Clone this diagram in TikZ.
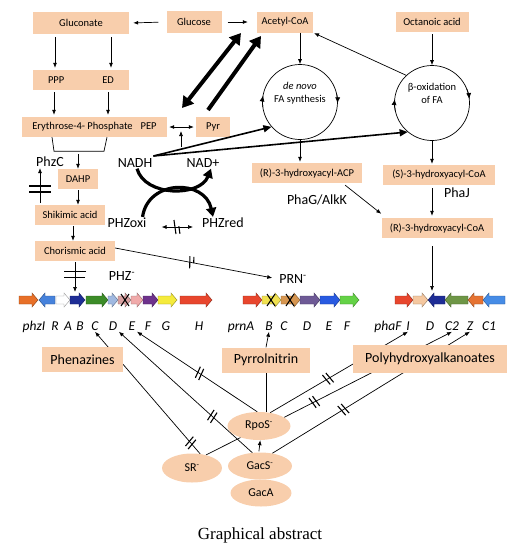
\documentclass[tikz,border=0pt]{standalone}
\usepackage{fontspec}
\setmainfont{Carlito}
\newfontfamily\capfont{Liberation Serif}
\usetikzlibrary{arrows.meta,shapes.geometric,calc}
\definecolor{boxc}{RGB}{248,206,172}
\definecolor{orangeA}{RGB}{232,112,40}
\definecolor{blueA}{RGB}{70,130,220}
\definecolor{dkblue}{RGB}{30,45,150}
\definecolor{greenA}{RGB}{60,140,40}
\definecolor{ltblue}{RGB}{160,185,225}
\definecolor{roseA}{RGB}{215,160,160}
\definecolor{pinkA}{RGB}{240,170,170}
\definecolor{purpA}{RGB}{110,50,140}
\definecolor{yellA}{RGB}{245,235,60}
\definecolor{redA}{RGB}{232,70,45}
\definecolor{yellB}{RGB}{240,225,80}
\definecolor{brownB}{RGB}{215,150,80}
\definecolor{purpB}{RGB}{110,90,150}
\definecolor{blueB}{RGB}{40,90,225}
\definecolor{greenB}{RGB}{100,210,70}
\definecolor{tanC}{RGB}{245,200,160}
\definecolor{greenC}{RGB}{110,150,70}
\definecolor{orangeC}{RGB}{230,115,50}
\definecolor{blueC}{RGB}{70,140,230}
\pgfdeclarelayer{bg}
\pgfsetlayers{bg,main}
\newcommand\gR[3]{\filldraw[fill=#3,draw=#3!60!black,line width=0.4pt] (#1,296) -- ({#2-6},296) -- ({#2-6},293) -- (#2,300) -- ({#2-6},307) -- ({#2-6},304) -- (#1,304) -- cycle;}
\newcommand\gL[3]{\filldraw[fill=#3,draw=#3!60!black,line width=0.4pt] (#2,296) -- ({#1+6},296) -- ({#1+6},293) -- (#1,300) -- ({#1+6},307) -- ({#1+6},304) -- (#2,304) -- cycle;}
\newcommand\gX[1]{\draw[line width=1.1pt] ({#1-4},294) -- ({#1+4},306) ({#1+4},294) -- ({#1-4},306);}
\tikzset{
  pics/brk/.style={code={\draw[-,line width=1.1pt] (-3,-6) -- (-1,6) (1,-6) -- (3,6);}},
  pics/brkb/.style={code={\draw[-,line width=1.1pt] (-3,-7) -- (-1,7) (1,-7) -- (3,7);}},
  pics/dbar/.style={code={\draw[-,line width=1.2pt] (-3,-11) -- (-3,11) (3,-11) -- (3,11);}},
}
\begin{document}
\begin{tikzpicture}[x=1pt,y=-1pt,
  box/.style={fill=boxc,inner sep=0pt,font=\fontsize{10.5}{12}\selectfont},
  bigbox/.style={fill=boxc,inner sep=0pt,font=\fontsize{14}{16}\selectfont},
  ell/.style={ellipse,fill=boxc,inner sep=0pt,font=\fontsize{12}{14}\selectfont},
  lbl/.style={inner sep=1pt,font=\fontsize{14}{16}\selectfont},
  gl/.style={inner sep=1.5pt,anchor=base,font=\fontsize{13.5}{16}\selectfont\itshape},
  ctext/.style={align=center,font=\fontsize{10.5}{12.5}\selectfont},
  ln/.style={line width=0.7pt},
  arr/.style={line width=0.7pt,-{Latex[length=5pt,width=4pt]}},
  darr/.style={line width=0.7pt,{Latex[length=5pt,width=4pt]}-{Latex[length=5pt,width=4pt]}},
  thk/.style={line width=4pt,-{Triangle[length=11pt,width=13pt]}},
  nl/.style={line width=1.6pt,-{Triangle[length=8pt,width=7pt]}},
  crv/.style={line width=3.2pt,-{Triangle[length=9pt,width=10pt]}},
  circ/.style={circle,draw,line width=0.7pt,minimum size=75pt,inner sep=0pt},
  ca/.style={line width=0.7pt,-{Latex[length=6pt,width=5pt]}},
]
\useasboundingbox (0,0) rectangle (517,550);
% ---------- boxes
\node[box,minimum width=96pt,minimum height=22pt] (glu) at (81,23) {Gluconate};
\node[box,minimum width=55pt,minimum height=22pt] (glc) at (194,22) {Glucose};
\node[box,minimum width=56pt,minimum height=21pt] (acoa) at (285,22) {Acetyl-CoA};
\node[box,minimum width=73pt,minimum height=20pt] (oct) at (432,22) {Octanoic acid};
\node[box,minimum width=96pt,minimum height=20pt] (ppp) at (81,80) {PPP\hspace{38pt}ED};
\node[box,minimum width=145pt,minimum height=20pt] (ery) at (94.5,127) {Erythrose-4- Phosphate\hspace{8pt}PEP};
\node[box,minimum width=34pt,minimum height=20pt] (pyr) at (213,127) {Pyr};
\node[box,minimum width=40pt,minimum height=20pt] (dahp) at (78,179) {DAHP};
\node[box,minimum width=70pt,minimum height=20pt] (shik) at (70,215) {Shikimic acid};
\node[box,minimum width=80pt,minimum height=20pt] (chor) at (75,251) {Chorismic acid};
\node[box,minimum width=110pt,minimum height=20pt] (racp) at (307,173) {(R)-3-hydroxyacyl-ACP};
\node[box,minimum width=112pt,minimum height=20pt] (scoa) at (439,175) {(S)-3-hydroxyacyl-CoA};
\node[box,minimum width=111pt,minimum height=20pt] (rcoa) at (437,228) {(R)-3-hydroxyacyl-CoA};
\node[bigbox,minimum width=81pt,minimum height=25pt] (phen) at (82.5,359.5) {Phenazines};
\node[bigbox,minimum width=88pt,minimum height=25pt] (pyrr) at (266,360) {Pyrrolnitrin};
\node[bigbox,minimum width=154pt,minimum height=28pt] (pha) at (430,359) {Polyhydroxyalkanoates};
% ---------- circles
\node[circ] (dn) at (300,102) {};
\node[ctext] (dnt) at (300,93) {\textit{de novo}\\FA synthesis};
\node[circ] (bo) at (432,103) {};
\node[ctext] (bot) at (432,93.5) {β-oxidation\\of FA};
\draw[ca] (dn) ++(172:37.5) arc (172:190:37.5);
\draw[ca] (dn) ++(-14:37.5) arc (-14:2:37.5);
\draw[ca] (bo) ++(168:37.5) arc (168:186:37.5);
\draw[ca] (bo) ++(-22:37.5) arc (-22:-6:37.5);
% ---------- labels
\node[lbl] (phzc) at (50,162) {PhzC};
\node[lbl] (nadh) at (135,163) {NADH};
\node[lbl] (nadp) at (203,163) {NAD+};
\node[lbl] (pzo) at (127,223) {PHZoxi};
\node[lbl] (pzr) at (223,223) {PHZred};
\node[lbl] (phzm) at (122,276) {PHZ\textsuperscript{-}};
\node[lbl] (prnm) at (293,279) {PRN\textsuperscript{-}};
\node[lbl] (phag) at (317,200) {PhaG/AlkK};
\node[lbl] (phaj) at (457,193) {PhaJ};
% ---------- ellipses
\node[ell,minimum width=63pt,minimum height=28pt] (rpos) at (259,426) {RpoS\textsuperscript{-}};
\node[ell,minimum width=60pt,minimum height=29pt] (sr) at (192,468) {SR\textsuperscript{-}};
\node[ell,minimum width=61pt,minimum height=27pt] (gaca) at (261,493) {GacA};
\node[ell,minimum width=64pt,minimum height=27pt] (gacs) at (260,466) {GacS\textsuperscript{-}};
\node[font=\capfont\fontsize{17}{20}\selectfont] (cap) at (260,535) {Graphical abstract};
% ---------- genes
\gR{19}{38}{orangeA}
\gL{39}{55}{blueA}
\gR{56}{70}{white}
\gR{70}{85}{dkblue}
\gR{86}{108}{greenA}
\gR{108}{118}{ltblue}
\gR{118}{131}{roseA}
\gR{131}{143}{pinkA}
\gR{143}{158}{purpA}
\gR{158}{177}{yellA}
\gR{180}{212}{redA}
\gX{125}
\gR{243}{262}{redA}
\gR{262}{281}{yellB}
\gR{281}{300}{brownB}
\gR{300}{320}{purpB}
\gR{320}{340}{blueB}
\gR{340}{359}{greenB}
\gX{271}
\gX{290}
\gR{395}{413}{redA}
\gR{413}{428}{tanC}
\gL{428}{445}{dkblue}
\gL{445}{468}{greenC}
\gL{468}{483}{orangeC}
\gL{483}{505}{blueC}
\coordinate (gB) at (75,292);
\coordinate (pD) at (432,291);
% gene labels
\node[gl] (lphzI) at (34,330) {phzI};
\node[gl] (lR) at (55,330) {R};
\node[gl] (lA) at (68,330) {A};
\node[gl] (lB) at (80,330) {B};
\node[gl] (lC) at (95,330) {C};
\node[gl] (lD) at (113,330) {D};
\node[gl] (lE) at (132,330) {E};
\node[gl] (lF) at (148,330) {F};
\node[gl] (lG) at (166,330) {G};
\node[gl] (lH) at (199,330) {H};
\node[gl] (lprnA) at (241,330) {prnA};
\node[gl] (lpB) at (269,330) {B};
\node[gl] (lpC) at (284,330) {C};
\node[gl] (lpD) at (307,330) {D};
\node[gl] (lpE) at (329,330) {E};
\node[gl] (lpF) at (347,330) {F};
\node[gl] (lphaF) at (388,330) {phaF};
\node[gl] (lI) at (408,330) {I};
\node[gl] (lhD) at (430,330) {D};
\node[gl] (lC2) at (452,330) {C2};
\node[gl] (lZ) at (470,330) {Z};
\node[gl] (lC1) at (489,330) {C1};
% ---------- top connectors
\draw[arr,shorten <=8pt,shorten >=4pt] (glc.west) -- (glu.east);
\draw[arr,shorten <=6pt,shorten >=9pt] (glc.east) -- (acoa.west);
\draw[arr,shorten <=3pt,shorten >=2pt] ($(glu.south)+(-26,0)$) -- ($(ppp.north)+(-26,0)$);
\draw[arr,shorten <=3pt,shorten >=2pt] ($(glu.south)+(30,0)$) -- ($(ppp.north)+(30,0)$);
\draw[arr,shorten <=2pt,shorten >=2pt] ($(ppp.south)+(-27,0)$) -- ($(ery.north)+(-40.5,0)$);
\draw[arr,shorten <=2pt,shorten >=2pt] ($(ppp.south)+(27,0)$) -- ($(ery.north)+(13.5,0)$);
\draw[darr,shorten <=2pt,shorten >=2pt] (ery.east) -- (pyr.west);
\coordinate (t1) at (182,108);
\coordinate (t2) at (241,33);
\coordinate (t3) at (208,110);
\coordinate (t4) at (261,36);
\draw[thk,{Triangle[length=11pt,width=13pt]}-{Triangle[length=11pt,width=13pt]}] (t1) -- (t2);
\draw[thk] (t3) -- (t4);
\coordinate (s0) at (181,147);
\coordinate (s1) at (181,131);
\draw[arr] (s0) -- (s1);
\draw[nl] ([yshift=7pt]nadh.east) -- (dn.221);
\draw[nl] ([yshift=7pt]nadh.east) -- (bo.230);
\draw[arr,shorten >=1pt] (bo.133) -- (acoa.south east);
\draw[arr] (acoa.south -| dn.north) -- (dn.north);
\draw[arr,shorten <=2pt] (oct.south) -- (bo.north);
\draw[arr,shorten >=1pt] (dn.south) -- (dn.south |- racp.north);
\draw[arr,shorten >=1pt] (bo.south) -- (bo.south |- scoa.north);
\draw[arr,shorten <=3pt,shorten >=2pt] (bo.south |- scoa.south) -- (bo.south |- rcoa.north);
\draw[arr] ([xshift=-17pt,yshift=-2pt]racp.south east) -- ([yshift=4pt]rcoa.north west);
\draw[arr,shorten <=8pt] (bo.south |- rcoa.south) -- (pD);
% ---------- left chain
\coordinate (b1) at ($(ery.south)+(-42.5,0)$);
\coordinate (b4) at ($(ery.south)+(12.5,0)$);
\draw[ln] (b1) -- ++(2,14) -- ++(50,0) -- (b4);
\coordinate (bm) at (78,151);
\draw[arr,shorten <=3pt] (bm) -- (dahp.north);
\draw[arr,shorten <=1pt] (dahp.south) -- (dahp.south |- shik.north);
\coordinate (sk) at ($(shik.south)+(3,0)$);
\draw[arr,shorten <=1pt] (sk) -- (sk |- chor.north);
\coordinate (pc0) at (40,203);
\draw[arr] (pc0) -- pic[pos=0.4,sloped]{dbar} (pc0 |- phzc.south);
\draw[arr,shorten <=1pt] (chor.south) -- pic[pos=0.44,sloped]{dbar} (gB);
\draw[arr,shorten >=6pt] ([yshift=3pt]chor.east) -- pic[pos=0.47,sloped]{brk} (prnm.west);
% NADH / PHZ cycle
\draw[crv] ([xshift=2pt]nadh.south) .. controls (145,197) and (200,197) .. ([xshift=8pt]nadp.south);
\draw[crv] ([xshift=-5pt]pzo.north east) .. controls (148,179) and (205,179) .. ([xshift=-10pt]pzr.north);
\draw[darr,shorten <=14pt,shorten >=8pt] ([yshift=-4pt]pzo.east) -- pic[pos=0.55,sloped]{brkb} ([yshift=-4pt]pzr.west);
% ---------- bottom regulation lines
\begin{pgfonlayer}{bg}
\draw[arr] (sr.60) -- pic[pos=0.09,sloped]{brk} (lC.south);
\draw[arr] (gacs.120) -- pic[pos=0.3,sloped]{brk} (lD.south east);
\draw[arr] (rpos.97) -- pic[pos=0.48,sloped]{brk} (lE.south east);
\draw[arr] (rpos.50) -- pic[pos=0.42,sloped]{brk} (lI.south);
\draw[arr] (rpos.19) -- pic[pos=0.18,sloped]{brk} (lC2.south);
\draw[arr] (gacs.46) -- pic[pos=0.36,sloped]{brk} (lZ.south);
\draw[ln] (rpos.63) -- (rpos.63 |- pyrr.south);
\draw[arr] (pyrr.north) -- (lpB.south);
\draw[arr,shorten <=1pt] (gacs.95) -- (rpos.-85);
\draw[ln] (sr.43) -- (rpos.212);
\end{pgfonlayer}
\end{tikzpicture}
\end{document}
